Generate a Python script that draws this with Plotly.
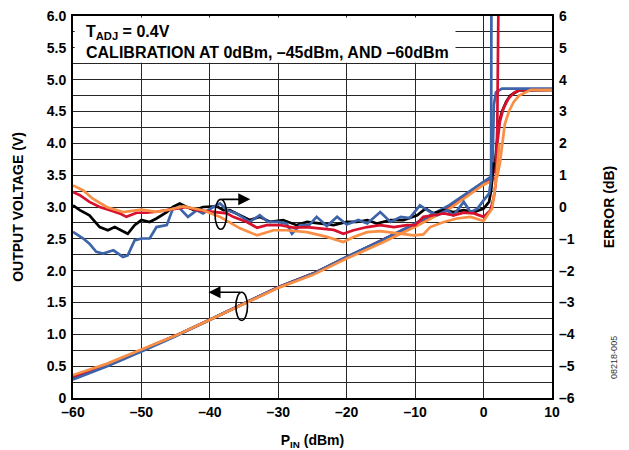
import plotly.graph_objects as go

# ---------------- data ----------------
# Output voltage (V) vs PIN (dBm)
out_x_lin = [-60, -55, -50, -45, -40, -35, -30, -25, -20, -15, -10, -5, 0]
out_blue_lin = [0.29, 0.50, 0.73, 0.97, 1.23, 1.48, 1.74, 1.95, 2.22, 2.47, 2.74, 3.03, 3.40]
out_black_lin = [0.33, 0.53, 0.75, 0.98, 1.23, 1.48, 1.74, 1.95, 2.21, 2.46, 2.73, 3.01, 3.38]
out_red_lin = [0.33, 0.53, 0.75, 0.98, 1.23, 1.48, 1.74, 1.95, 2.21, 2.46, 2.73, 3.01, 3.38]
out_orange_lin = [0.36, 0.54, 0.76, 0.98, 1.23, 1.48, 1.73, 1.93, 2.19, 2.43, 2.69, 2.97, 3.35]

out_blue_sat_x = [1.0, 1.3, 1.5, 1.8, 2.7, 10]
out_blue_sat_y = [3.47, 3.6, 4.6, 4.8, 4.86, 4.86]
out_black_sat_x = [1.0, 1.6, 1.9, 2.2, 2.7, 3.3, 3.9, 5.1, 10]
out_black_sat_y = [3.45, 3.6, 4.0, 4.3, 4.5, 4.65, 4.75, 4.83, 4.84]
out_red_sat_x = [1.0, 1.7, 2.0, 2.4, 2.9, 3.6, 4.5, 5.5, 10]
out_red_sat_y = [3.45, 3.6, 4.0, 4.35, 4.55, 4.7, 4.8, 4.84, 4.84]
out_orange_sat_x = [1.0, 2.0, 2.4, 2.7, 3.1, 3.7, 4.4, 5.2, 6.9, 10]
out_orange_sat_y = [3.40, 3.48, 3.7, 4.0, 4.3, 4.5, 4.65, 4.75, 4.84, 4.84]

# Error (dB) vs PIN (dBm)
err_black_x = [-60, -59, -57.6, -56.1, -54.9, -53.9, -52, -51, -50, -48.8, -47.8, -46.3, -45.4, -44.4,
               -43.4, -42.2, -41, -39, -38, -37.1, -35.6, -34.2, -32.7, -31.2, -29.3, -27.3, -25.8,
               -23.9, -21.9, -20, -18.5, -17, -15.6, -13.6, -11.7, -9.7, -8.5, -7.3, -5.8, -4.4, -2.9,
               -1.4, 0, 0.8, 1.1, 1.5]
err_black_y = [0.05, -0.1, -0.26, -0.63, -0.73, -0.63, -0.84, -0.57, -0.41, -0.47, -0.36, -0.16, 0, 0.11,
               0, -0.1, 0, 0.02, -0.1, -0.1, -0.26, -0.41, -0.31, -0.47, -0.41, -0.57, -0.47,
               -0.52, -0.57, -0.47, -0.47, -0.41, -0.52, -0.41, -0.41, -0.26, -0.05, -0.2, -0.1, -0.16, -0.1,
               -0.16, -0.05, 0.16, 0.52, 1.4]

err_red_x = [-60, -59, -57.6, -56.1, -54.6, -53.2, -52.2, -50.7, -49.3, -47.8, -44.9, -43.4, -41.9, -39,
             -37.5, -36.6, -34.6, -33.1, -31.7, -29.7, -27.8, -25.8, -23.9, -21.9, -20.5, -19, -17, -15.1,
             -13.1, -11.2, -10, -8.8, -7.3, -5.8, -4.4, -2.9, -1.4, 0, 1.0, 1.5, 1.8, 2.0, 2.2]
err_red_y = [0.47, 0.37, 0.16, 0, -0.1, -0.2, -0.31, -0.18, -0.18, -0.15, -0.05, 0, -0.1, -0.16,
             -0.2, -0.31, -0.47, -0.65, -0.57, -0.57, -0.65, -0.63, -0.68, -0.72, -0.84, -0.73, -0.63, -0.57,
             -0.63, -0.57, -0.57, -0.31, -0.26, -0.2, -0.26, -0.18, -0.2, -0.31, -0.1, 0.31, 0.8, 2.5, 7]

err_blue_x = [-60, -58.5, -57.6, -56.6, -55.6, -54.1, -52.7, -52, -51, -50, -48.8, -47.8, -46.3, -45.4,
              -44.5, -43.2, -41.9, -41, -39.5, -38.5, -37.5, -36.1, -34.2, -32.7, -31.5, -30, -28.8, -28,
              -26.8, -25.5, -24.4, -22.9, -21.4, -20, -18.3, -17, -15.1, -13.6, -12.1, -10.8, -9.3, -7.8,
              -6.8, -5.3, -4.4, -2.9, -1.9, -0.9, 0, 0.8, 1.1, 1.15]
err_blue_y = [-0.78, -0.99, -1.15, -1.41, -1.46, -1.36, -1.57, -1.52, -1.05, -0.99, -0.99, -0.63, -0.57, -0.05,
              -0.02, -0.31, -0.1, -0.2, 0, 0.11, -0.1, -0.2, -0.47, -0.26, -0.47, -0.47, -0.52, -0.84,
              -0.57, -0.57, -0.31, -0.6, -0.31, -0.55, -0.41, -0.52, -0.16, -0.47, -0.31, -0.35, 0.05, -0.16,
              -0.26, -0.1, -0.26, 0.16, -0.16, -0.05, 0.21, 0.42, 0.84, 7]

err_orange_x = [-60, -58.5, -57.1, -55.1, -52.7, -50, -47.8, -45.8, -43.9, -41, -38.5, -35.6, -33.1, -30.7,
                -28.8, -25.8, -22.9, -20.5, -19, -17, -15.1, -13.1, -10.2, -8.8, -7.8, -5.8, -3.9, -1.9,
                0, 1.25, 1.8, 2.3]
err_orange_y = [0.68, 0.52, 0.26, 0, -0.16, -0.08, -0.15, -0.08, 0.02, -0.1, -0.31, -0.67, -0.89, -0.73,
                -0.73, -0.79, -0.94, -1.10, -0.94, -0.79, -0.76, -0.82, -0.89, -0.86, -0.63, -0.47, -0.36, -0.31,
                -0.44, -0.05, 0.8, 2.0]

# tick labels
x_tickvals = [-60, -50, -40, -30, -20, -10, 0, 10]
x_ticktext = ["\u201360", "\u201350", "\u201340", "\u201330", "\u201320", "\u201310", "0", "10"]
yl_tickvals = [0, 0.5, 1, 1.5, 2, 2.5, 3, 3.5, 4, 4.5, 5, 5.5, 6]
yl_ticktext = ["0", "0.5", "1.0", "1.5", "2.0", "2.5", "3.0", "3.5", "4.0", "4.5", "5.0", "5.5", "6.0"]
yr_tickvals = [-6, -5, -4, -3, -2, -1, 0, 1, 2, 3, 4, 5, 6]
yr_ticktext = ["\u20136", "\u20135", "\u20134", "\u20133", "\u20132", "\u20131", "0", "1", "2", "3", "4", "5", "6"]

# ---------------- styles ----------------
C_BLUE = "#3D64A8"
C_BLACK = "#000000"
C_RED = "#D7102E"
C_ORANGE = "#F98E45"
FONT = "Liberation Sans, Arial, Helvetica, sans-serif"
LW = 2.7
TICKF = dict(family=FONT, size=14, weight="bold", color="black")
TITLEF = dict(family=FONT, size=14, weight="bold", color="black")

fig = go.Figure()

def add(x, y, color, axis="y"):
    fig.add_trace(go.Scatter(x=x, y=y, mode="lines", line=dict(color=color, width=LW),
                             yaxis=axis, showlegend=False, hoverinfo="skip"))

# error curves
add(err_black_x, err_black_y, C_BLACK, "y2")
add(err_blue_x, err_blue_y, C_BLUE, "y2")
add(err_red_x, err_red_y, C_RED, "y2")
add(err_orange_x, err_orange_y, C_ORANGE, "y2")

# output voltage curves
add(out_x_lin + out_black_sat_x, out_black_lin + out_black_sat_y, C_BLACK)
add(out_x_lin + out_red_sat_x, out_red_lin + out_red_sat_y, C_RED)
add(out_x_lin + out_blue_sat_x, out_blue_lin + out_blue_sat_y, C_BLUE)
add(out_x_lin + out_orange_sat_x, out_orange_lin + out_orange_sat_y, C_ORANGE)

GRID = "#262626"
fig.update_layout(
    width=629, height=450,
    margin=dict(l=73, r=77, t=16, b=52),
    paper_bgcolor="white", plot_bgcolor="white",
    font=dict(family=FONT, size=14, color="black"),
    xaxis=dict(range=[-60, 10], tickvals=x_tickvals, ticktext=x_ticktext, automargin=False,
               showgrid=True, gridcolor=GRID, gridwidth=1.4,
               showline=True, linecolor="black", linewidth=2, mirror=True,
               ticks="", zeroline=False, tickfont=TICKF,
               title=dict(text="P<sub>IN</sub> (dBm)", font=TITLEF, standoff=16)),
    yaxis=dict(range=[0, 6], tickvals=yl_tickvals, ticktext=yl_ticktext, automargin=False,
               showgrid=True, gridcolor=GRID, gridwidth=1.4,
               minor=dict(tickvals=[v + 0.25 for v in yl_tickvals[:-1]], showgrid=True,
                          gridcolor=GRID, gridwidth=1.4),
               showline=True, linecolor="black", linewidth=2, mirror=True,
               ticks="", zeroline=False, tickfont=TICKF, ticklabelstandoff=2,
               title=dict(text="OUTPUT VOLTAGE (V)", font=TITLEF, standoff=20)),
    yaxis2=dict(range=[-6, 6], tickvals=yr_tickvals, ticktext=yr_ticktext, automargin=False,
                overlaying="y", side="right", showgrid=False, zeroline=False,
                ticks="", showline=False, tickfont=TICKF, ticklabelstandoff=6,
                title=dict(text="ERROR (dB)", font=TITLEF, standoff=30)),
)

# white box behind the header text
fig.add_shape(type="rect", xref="x", yref="y", x0=-59.75, x1=-4.1, y0=5.265, y1=5.975,
              fillcolor="white", line=dict(width=0), layer="above")

fig.add_annotation(x=-58.4, y=5.74, xref="x", yref="y", xanchor="left", yanchor="middle",
                   text="T<sub>ADJ</sub> = 0.4V", showarrow=False,
                   font=dict(family=FONT, size=16, weight="bold"))
fig.add_annotation(x=-58.4, y=5.42, xref="x", yref="y", xanchor="left", yanchor="middle",
                   text="CALIBRATION AT 0dBm, \u201345dBm, AND \u201360dBm", showarrow=False,
                   font=dict(family=FONT, size=16, weight="bold"))

# ellipse markers + arrows
fig.add_shape(type="circle", xref="x", yref="y", x0=-39.25, x1=-37.55, y0=2.65, y1=3.12,
              line=dict(color="black", width=1.6), layer="above")
fig.add_annotation(x=-34.1, y=3.12, ax=-38.4, ay=3.12, xref="x", yref="y", axref="x", ayref="y",
                   text="", showarrow=True, arrowhead=2, arrowsize=1.5, arrowwidth=1.6,
                   arrowcolor="black")
fig.add_shape(type="circle", xref="x", yref="y", x0=-36.2, x1=-34.5, y0=1.22, y1=1.66,
              line=dict(color="black", width=1.6), layer="above")
fig.add_annotation(x=-40.2, y=1.66, ax=-35.35, ay=1.66, xref="x", yref="y", axref="x", ayref="y",
                   text="", showarrow=True, arrowhead=2, arrowsize=1.5, arrowwidth=1.6,
                   arrowcolor="black")

fig.add_annotation(x=1.144, y=0.046, xref="paper", yref="paper", text="08218-005", textangle=-90,
                   showarrow=False, font=dict(family=FONT, size=9, color="#333333"))

fig.write_html("out.html", config={"displayModeBar": False},
               post_script="document.body.style.margin='0';document.body.style.padding='0';")
